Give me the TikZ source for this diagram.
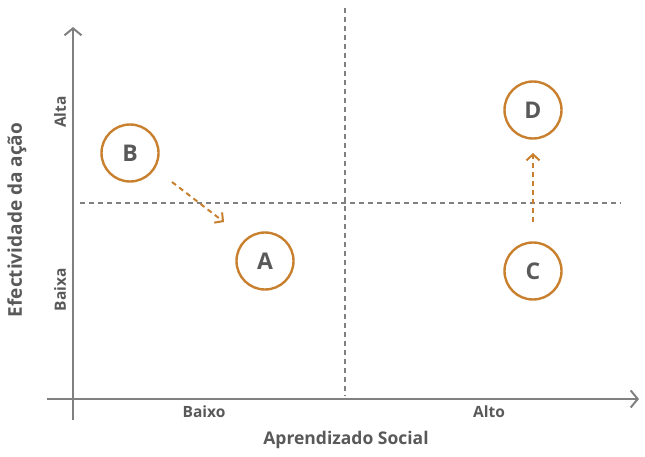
\documentclass[tikz,border=0pt]{standalone}
\usepackage{fontspec}
\setmainfont{Open Sans}[BoldFont={Open Sans Bold}]
\usetikzlibrary{arrows.meta}
\definecolor{orng}{HTML}{C8802E}
\definecolor{axgray}{HTML}{808080}
\definecolor{txt}{HTML}{595959}
\begin{document}
\begin{tikzpicture}[x=1pt,y=-1pt,
  axis/.style={draw=axgray,line width=2pt},
  grid/.style={draw=axgray,line width=2pt,dash pattern=on 5pt off 4pt},
  pt/.style={circle,draw=orng,line width=2.4pt,minimum size=57pt,inner sep=0pt,text=txt,font=\bfseries\fontsize{23}{23}\selectfont},
  move/.style={draw=orng,line width=2pt,dash pattern=on 5pt off 4pt,-{Straight Barb[length=6pt,width=13pt,line width=2pt]}},
  lbl/.style={text=txt,font=\bfseries\fontsize{15.5}{15.5}\selectfont},
  title/.style={text=txt,font=\bfseries\fontsize{17.5}{18}\selectfont}]
\useasboundingbox (0,0) rectangle (645,457);
% axes
\coordinate (xs) at (47,399);
\coordinate (xe) at (639,399);
\coordinate (ys) at (73,420);
\coordinate (ye) at (73,27);
\draw[axis,-{Straight Barb[length=7pt,width=17pt,line width=2pt]}] (xs) -- (xe);
\draw[axis,-{Straight Barb[length=7pt,width=17pt,line width=2pt]}] (ys) -- (ye);
% dashed dividers
\coordinate (vt) at (345,8);
\coordinate (vb) at (345,396);
\coordinate (hl) at (80,203);
\coordinate (hr) at (621,203);
\draw[grid] (vt) -- (vb);
\draw[grid] (hl) -- (hr);
% points
\node[pt] (B) at (130,153) {B};
\node[pt] (A) at (265,261) {A};
\node[pt] (D) at (533,110) {D};
\node[pt] (C) at (533,271) {C};
\coordinate (b1) at (172,182);
\coordinate (b2) at (224,222);
\coordinate (c1) at (533,222);
\coordinate (c2) at (533,153);
\draw[move] (b1) -- (b2);
\draw[move] (c1) -- (c2);
% labels
\node[lbl] (lx1) at (204,412) {Baixo};
\node[lbl] (lx2) at (489,412) {Alto};
\node[title] (tx) at (346,440) {Aprendizado Social};
\node[lbl,rotate=90] (ly1) at (60,112) {Alta};
\node[lbl,rotate=90] (ly2) at (60,290) {Baixa};
\node[title,font=\bfseries\fontsize{19}{19}\selectfont,rotate=90] (ty) at (17,220) {Efectividade da ação};
\end{tikzpicture}
\end{document}
